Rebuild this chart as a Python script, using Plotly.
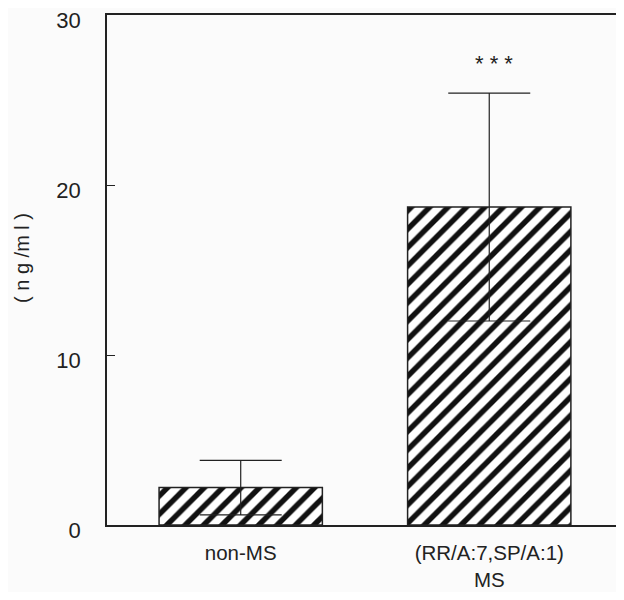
import plotly.graph_objects as go

categories = ["non-MS", "(RR/A:7,SP/A:1)<br>MS"]
means = [2.2, 18.7]
errors = [1.6, 6.7]
y_ticks = [0, 10, 20, 30]
y_title = "( n g /m l )"
signif = "* * *"

fig = go.Figure()
fig.add_trace(go.Bar(
    x=[0, 1], y=means, width=0.657,
    marker=dict(color="white", line=dict(color="#222", width=1.5),
                pattern=dict(shape="/", fgcolor="#111", fgopacity=1, bgcolor="white", size=13, solidity=0.42)),
    error_y=dict(type="data", array=errors, visible=True, color="#222", thickness=1.2, width=41),
    showlegend=False,
))
fig.add_annotation(x=1, y=means[1] + errors[1], yshift=30, xshift=5, text=signif, showarrow=False,
                   font=dict(size=22, color="#222", family="Liberation Sans, Arial"))
fig.add_annotation(xref="paper", yref="paper", x=-0.166, y=0.5226, xanchor="center", yanchor="middle",
                   text=y_title, textangle=-90, showarrow=False,
                   font=dict(size=20, color="#222", family="Liberation Sans, Arial"))

fig.update_layout(
    width=608, height=584,
    margin=dict(l=99, r=0, t=7, b=67, autoexpand=False),
    paper_bgcolor="#fbfbfb", plot_bgcolor="#fbfbfb",
    font=dict(family="Liberation Sans, Arial", color="#222"),
    xaxis=dict(range=[-0.538, 1.510], tickvals=[0, 1], ticktext=categories, automargin=False,
               showline=True, linecolor="#222", linewidth=1.5, mirror=True, ticklabelstandoff=9,
               ticks="", showgrid=False, zeroline=False, tickfont=dict(size=20.5)),
    yaxis=dict(range=[0, 30], tickvals=y_ticks, ticktext=[str(v) for v in y_ticks], automargin=False,
               showline=True, linecolor="#222", linewidth=1.5, mirror=True, ticklabeloverflow="allow",
               ticks="inside", ticklen=8, tickcolor="#222", showgrid=False, zeroline=False,
               tickfont=dict(size=22), ticklabelstandoff=20, ticklabelshift=5),
)
fig.write_html("out.html")
